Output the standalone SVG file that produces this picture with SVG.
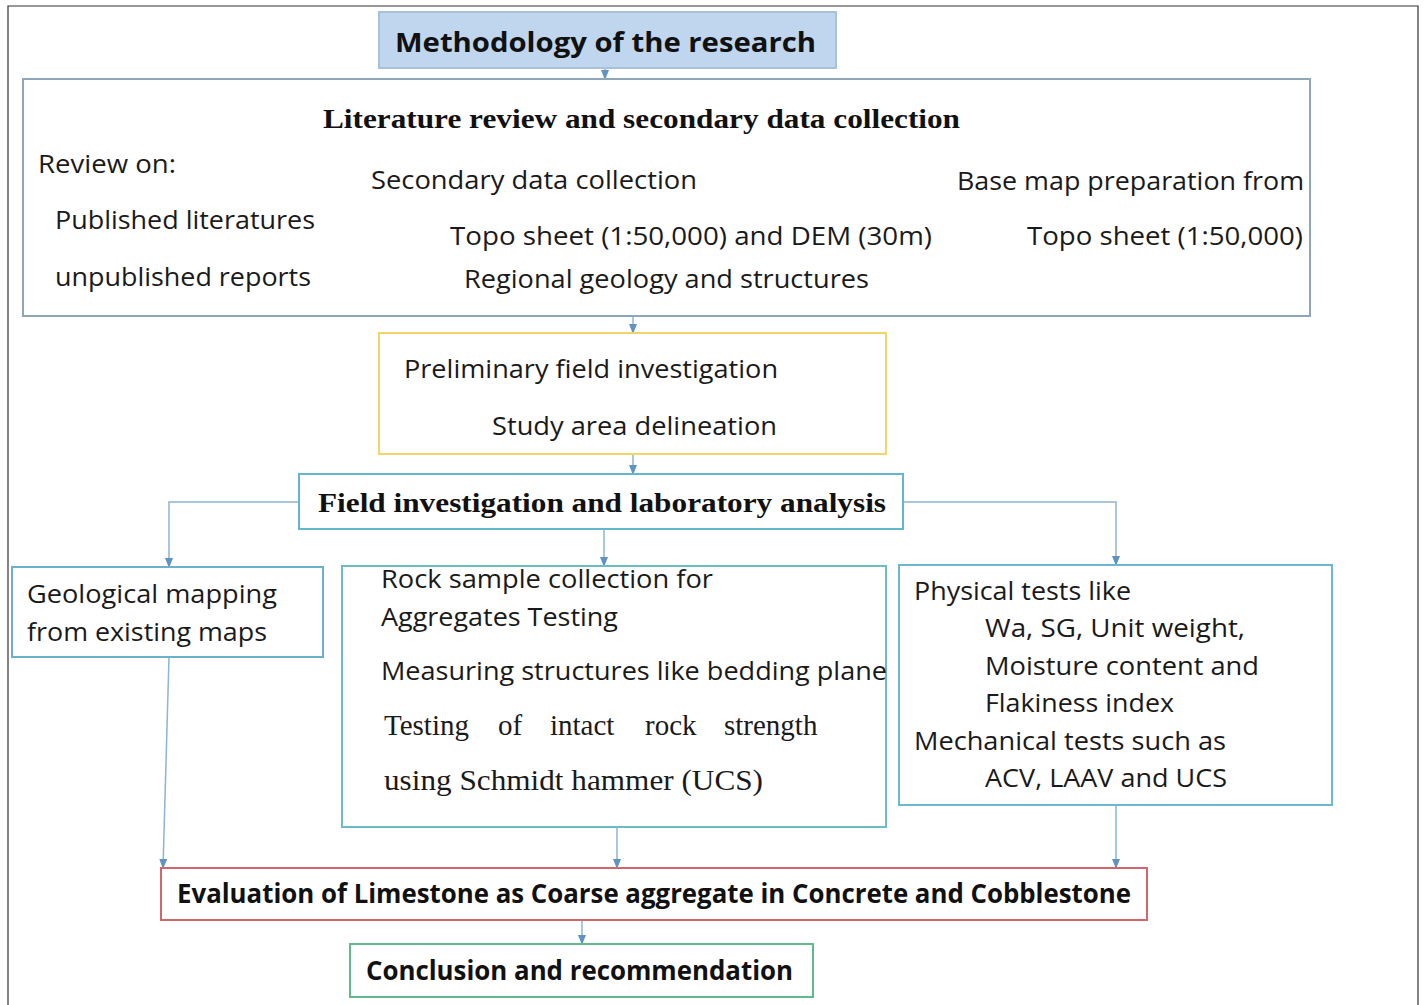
<svg xmlns="http://www.w3.org/2000/svg" width="1427" height="1005" viewBox="0 0 1427 1005">
<defs>
<marker id="ah" markerWidth="10" markerHeight="8" refX="9" refY="4" orient="auto" markerUnits="userSpaceOnUse">
<path d="M0,0 L10,4 L0,8 z" fill="#5f93c4"/>
</marker>
<style>
.s{font-family:"Open Sans","Noto Sans",sans-serif;font-size:25px;fill:#1a1a1a}
.sb{font-family:"Open Sans","Noto Sans",sans-serif;font-size:26px;font-weight:bold;fill:#111}
.r{font-family:"Liberation Serif",serif;font-size:29px;fill:#1a1a1a}
.rb{font-family:"Liberation Serif",serif;font-size:28px;font-weight:bold;fill:#111}
.box{fill:#fff;stroke-width:2}
.c{fill:none;stroke:#8db4d4;stroke-width:1.5}
</style>
</defs>
<rect width="1427" height="1005" fill="#fff"/>
<path d="M8,1005 V6 H1418 V1005" fill="none" stroke="#333" stroke-width="1.2"/>

<g id="connectors">
<line class="c" x1="605" y1="68" x2="605" y2="79" marker-end="url(#ah)"/>
<line class="c" x1="633" y1="316" x2="633" y2="333" marker-end="url(#ah)"/>
<line class="c" x1="633" y1="454" x2="633" y2="474" marker-end="url(#ah)"/>
<polyline class="c" points="299,502 169,502 169,567" marker-end="url(#ah)"/>
<polyline class="c" points="903,502 1116,502 1116,565" marker-end="url(#ah)"/>
<line class="c" x1="604" y1="529" x2="604" y2="566" marker-end="url(#ah)"/>
<line class="c" x1="169" y1="657" x2="163" y2="868" marker-end="url(#ah)"/>
<line class="c" x1="617" y1="827" x2="617" y2="868" marker-end="url(#ah)"/>
<line class="c" x1="1116" y1="805" x2="1116" y2="868" marker-end="url(#ah)"/>
<line class="c" x1="582" y1="920" x2="582" y2="944" marker-end="url(#ah)"/>
</g>

<g id="title">
<rect x="379" y="12" width="457" height="56" fill="#bfd6ee" stroke="#a9c2da" stroke-width="2"/>
<text class="sb" x="395" y="52" font-size="28" textLength="421" lengthAdjust="spacingAndGlyphs">Methodology of the research</text>
</g>

<g id="literature">
<rect class="box" x="23" y="79" width="1287" height="237" stroke="#8fa6ba"/>
<text class="rb" x="323" y="128" textLength="637" lengthAdjust="spacingAndGlyphs">Literature review and secondary data collection</text>
<text class="s" x="38" y="173" textLength="138" lengthAdjust="spacingAndGlyphs">Review on:</text>
<text class="s" x="55" y="229" textLength="260" lengthAdjust="spacingAndGlyphs">Published literatures</text>
<text class="s" x="55" y="286" textLength="256" lengthAdjust="spacingAndGlyphs">unpublished reports</text>
<text class="s" x="371" y="189" textLength="326" lengthAdjust="spacingAndGlyphs">Secondary data collection</text>
<text class="s" x="450" y="245" textLength="482" lengthAdjust="spacingAndGlyphs">Topo sheet (1:50,000) and DEM (30m)</text>
<text class="s" x="464" y="288" textLength="405" lengthAdjust="spacingAndGlyphs">Regional geology and structures</text>
<text class="s" x="957" y="190" textLength="347" lengthAdjust="spacingAndGlyphs">Base map preparation from</text>
<text class="s" x="1027" y="245" textLength="276" lengthAdjust="spacingAndGlyphs">Topo sheet (1:50,000)</text>
</g>

<g id="preliminary">
<rect class="box" x="379" y="333" width="507" height="121" stroke="#f2d66a"/>
<text class="s" x="404" y="378" textLength="374" lengthAdjust="spacingAndGlyphs">Preliminary field investigation</text>
<text class="s" x="492" y="435" textLength="285" lengthAdjust="spacingAndGlyphs">Study area delineation</text>
</g>

<g id="field">
<rect class="box" x="299" y="474" width="604" height="55" stroke="#62b7cf"/>
<text class="rb" x="318" y="512" textLength="568" lengthAdjust="spacingAndGlyphs">Field investigation and laboratory analysis</text>
</g>

<g id="geological">
<rect class="box" x="12" y="567" width="311" height="90" stroke="#6cb1cc"/>
<text class="s" x="27" y="603" textLength="250" lengthAdjust="spacingAndGlyphs">Geological mapping</text>
<text class="s" x="27" y="641" textLength="240" lengthAdjust="spacingAndGlyphs">from existing maps</text>
</g>

<g id="rock">
<rect class="box" x="342" y="566" width="544" height="261" stroke="#6cbcc6"/>
<text class="s" x="381" y="588" textLength="332" lengthAdjust="spacingAndGlyphs">Rock sample collection for</text>
<text class="s" x="381" y="626" textLength="237" lengthAdjust="spacingAndGlyphs">Aggregates Testing</text>
<text class="s" x="381" y="680" textLength="506" lengthAdjust="spacingAndGlyphs">Measuring structures like bedding plane</text>
<text class="r" y="735"><tspan x="384">Testing</tspan><tspan x="498">of</tspan><tspan x="550">intact</tspan><tspan x="645">rock</tspan><tspan x="724">strength</tspan></text>
<text class="r" x="384" y="790" textLength="379" lengthAdjust="spacingAndGlyphs">using Schmidt hammer (UCS)</text>
</g>

<g id="physical">
<rect class="box" x="899" y="565" width="433" height="240" stroke="#6cb7d2"/>
<text class="s" x="914" y="600" textLength="217" lengthAdjust="spacingAndGlyphs">Physical tests like</text>
<text class="s" x="985" y="637" textLength="260" lengthAdjust="spacingAndGlyphs">Wa, SG, Unit weight,</text>
<text class="s" x="985" y="675" textLength="274" lengthAdjust="spacingAndGlyphs">Moisture content and</text>
<text class="s" x="985" y="712" textLength="189" lengthAdjust="spacingAndGlyphs">Flakiness index</text>
<text class="s" x="914" y="750" textLength="312" lengthAdjust="spacingAndGlyphs">Mechanical tests such as</text>
<text class="s" x="985" y="787" textLength="242" lengthAdjust="spacingAndGlyphs">ACV, LAAV and UCS</text>
</g>

<g id="evaluation">
<rect class="box" x="161" y="868" width="986" height="52" stroke="#d2666c"/>
<text class="sb" x="177" y="903" textLength="954" lengthAdjust="spacingAndGlyphs">Evaluation of Limestone as Coarse aggregate in Concrete and Cobblestone</text>
</g>

<g id="conclusion">
<rect class="box" x="350" y="944" width="463" height="53" stroke="#5fba8c"/>
<text class="sb" x="366" y="980" textLength="427" lengthAdjust="spacingAndGlyphs">Conclusion and recommendation</text>
</g>
</svg>
